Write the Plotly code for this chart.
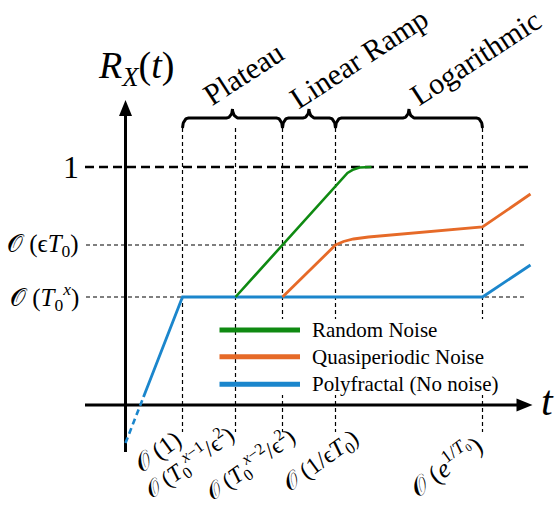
import numpy as np
import plotly.graph_objects as go

# ---- data (t along the horizontal axis, R_X(t) along the vertical axis) ----
# regime boundaries on the t axis
t_marks = [57, 110, 157, 210, 357]
t_labels = [
    "𝒪 (1)",
    "𝒪 (<i>T</i><sub>0</sub><sup><i>x</i>−1</sup>/ϵ<sup>2</sup>)",
    "𝒪 (<i>T</i><sub>0</sub><sup><i>x</i>−2</sup>/ϵ<sup>2</sup>)",
    "𝒪 (1/ϵ<i>T</i><sub>0</sub>)",
    "𝒪 (<i>e</i><sup>1/<i>T</i>₀</sup>)",
]

# reference levels of R_X(t)
level_values = [238, 160, 108]
level_labels = ["1", "𝒪 (ϵ<i>T</i><sub>0</sub>)", "𝒪 (<i>T</i><sub>0</sub><sup><i>x</i></sup>)"]

# polyfractal (no noise)
poly_early_t = [0, 18]
poly_early_r = [-38, 8]
poly_t = [18, 57, 357, 405]
poly_r = [8, 108, 108, 140]

# random noise
random_t = [110, 222, 228, 234, 246]
random_r = [108, 232, 235.5, 237.5, 238]

# quasiperiodic noise
quasi_t = [157, 210, 218, 228, 243, 357, 405]
quasi_r = [108, 160, 163.5, 166, 168, 178, 211]

regime_names = ["Plateau", "Linear Ramp", "Logarithmic"]
regime_bounds = [(0, 2), (2, 3), (3, 4)]  # indices into t_marks

series_names = ["Random Noise", "Quasiperiodic Noise", "Polyfractal (No noise)"]
series_colors = ["#0f8a12", "#e66a28", "#1b86cc"]

FONT = "Liberation Serif"

fig = go.Figure()

# ---- guide lines ----
guide = dict(color="black", width=1.2, dash="4px,3px")
x_left, x_right = -39.5, 399.5
fig.add_trace(go.Scatter(x=[-40.5, 403], y=[level_values[0]] * 2, mode="lines",
                         line=dict(color="black", width=2.4, dash="9px,5px"), hoverinfo="skip"))
for lv in level_values[1:]:
    fig.add_trace(go.Scatter(x=[x_left, x_right], y=[lv, lv], mode="lines", line=guide, hoverinfo="skip"))
for tm in t_marks:
    fig.add_trace(go.Scatter(x=[tm, tm], y=[277, -27], mode="lines", line=guide, hoverinfo="skip"))

# ---- curly braces above the regimes ----
def brace(x0, x1, y_end=277, y_body=287, y_tip=296, r=6.0):
    xm = (x0 + x1) / 2
    th = np.linspace(0, np.pi / 2, 14)
    lx1 = x0 + r - r * np.cos(th)
    ly1 = y_end + (y_body - y_end) * np.sin(th)
    lx2 = xm - r + r * np.sin(th)
    ly2 = y_tip - (y_tip - y_body) * np.cos(th)
    lx = np.concatenate([lx1, lx2])
    ly = np.concatenate([ly1, ly2])
    rx = (2 * xm - lx)[::-1]
    ry = ly[::-1]
    return np.concatenate([lx, rx]), np.concatenate([ly, ry])

for (i0, i1) in regime_bounds:
    bx, by = brace(t_marks[i0], t_marks[i1])
    fig.add_trace(go.Scatter(x=bx, y=by, mode="lines", line=dict(color="black", width=3),
                             hoverinfo="skip"))

# ---- axes ----
fig.add_trace(go.Scatter(x=[0, 0], y=[-47, 290], mode="lines", line=dict(color="black", width=3),
                         hoverinfo="skip"))
fig.add_trace(go.Scatter(x=[-40.5, 392], y=[0, 0], mode="lines", line=dict(color="black", width=3),
                         hoverinfo="skip"))

# ---- curves ----
fig.add_trace(go.Scatter(x=poly_early_t, y=poly_early_r, mode="lines",
                         line=dict(color=series_colors[2], width=2.6, dash="6px,4px"), hoverinfo="skip"))
fig.add_trace(go.Scatter(x=poly_t, y=poly_r, mode="lines",
                         line=dict(color=series_colors[2], width=2.8), hoverinfo="skip"))
fig.add_trace(go.Scatter(x=random_t, y=random_r, mode="lines",
                         line=dict(color=series_colors[0], width=2.6), hoverinfo="skip"))
fig.add_trace(go.Scatter(x=quasi_t, y=quasi_r, mode="lines",
                         line=dict(color=series_colors[1], width=2.8), hoverinfo="skip"))

shapes = []
# arrow heads
shapes.append(dict(type="path", xref="x", yref="y", path="M -6.5 289 L 6.5 289 L 0 305 Z",
                   fillcolor="black", line=dict(width=0), layer="above"))
shapes.append(dict(type="path", xref="x", yref="y", path="M 391 -6.5 L 391 6.5 L 407 0 Z",
                   fillcolor="black", line=dict(width=0), layer="above"))
# legend panel
shapes.append(dict(type="rect", xref="x", yref="y", x0=113, x1=386, y0=10, y1=86,
                   fillcolor="white", line=dict(width=0), layer="above"))
legend_y = [75, 48.3, 20.7]
for name, col, ly in zip(series_names, series_colors, legend_y):
    shapes.append(dict(type="line", xref="x", yref="y", x0=94, x1=174.5, y0=ly, y1=ly,
                       line=dict(color=col, width=5), layer="above"))

annotations = []
for name, ly in zip(series_names, legend_y):
    annotations.append(dict(x=184, y=ly, text=name, showarrow=False,
                            xanchor="left", yanchor="middle", font=dict(size=21, family=FONT)))

# level labels
annotations.append(dict(x=-45, y=level_values[0], text=level_labels[0], showarrow=False,
                        xanchor="right", yanchor="middle", font=dict(size=32, family=FONT)))
for lv, lab in zip(level_values[1:], level_labels[1:]):
    annotations.append(dict(x=-45, y=lv, text=lab, showarrow=False,
                            xanchor="right", yanchor="middle", font=dict(size=25, family=FONT)))

# t-axis labels
label_dx = [-25, -47, -33, -14, -38]
label_dy = [-47, -57, -59, -57, -60]
label_size = [25, 23, 23, 24, 26]
for tm, lab, dx, dy, fs in zip(t_marks, t_labels, label_dx, label_dy, label_size):
    annotations.append(dict(x=tm + dx, y=dy, text=lab, showarrow=False, textangle=-36,
                            xanchor="center", yanchor="middle", font=dict(size=fs, family=FONT)))

# regime names
name_dx = [10.5, 49, 66]
name_y = [332, 347, 348]
for (i0, i1), nm, dx, ny in zip(regime_bounds, regime_names, name_dx, name_y):
    xm = (t_marks[i0] + t_marks[i1]) / 2
    annotations.append(dict(x=xm + dx, y=ny, text=nm, showarrow=False, textangle=-33,
                            xanchor="center", yanchor="middle", font=dict(size=30, family=FONT)))

# axis titles
annotations.append(dict(x=10.5, y=337, text="<i>R</i><sub><i>X</i></sub>(<i>t</i>)", showarrow=False,
                        xanchor="center", yanchor="middle", font=dict(size=38, family=FONT)))
annotations.append(dict(x=422, y=4, text="<i>t</i>", showarrow=False,
                        xanchor="center", yanchor="middle", font=dict(size=42, family=FONT)))

for a in annotations:
    a["xref"] = "x"
    a["yref"] = "y"
    a["font"]["color"] = "black"

fig.update_layout(
    width=555, height=506,
    margin=dict(l=0, r=0, t=0, b=0),
    paper_bgcolor="white", plot_bgcolor="white",
    showlegend=False,
    xaxis=dict(visible=False, range=[-125.5, 429.5], fixedrange=True),
    yaxis=dict(visible=False, range=[-101, 405], fixedrange=True),
    shapes=shapes,
    annotations=annotations,
)

fig.write_html("out.html")
